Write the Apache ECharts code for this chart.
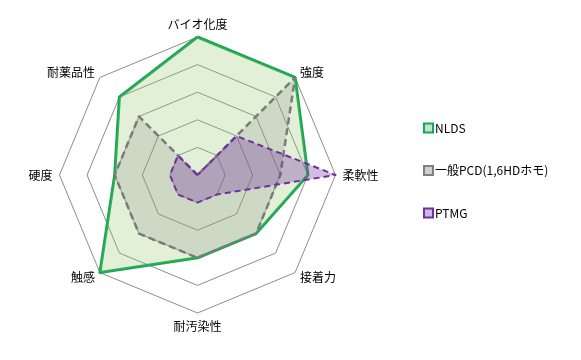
<!DOCTYPE html>
<html><head><meta charset="utf-8">
<script src="https://cdn.jsdelivr.net/npm/echarts@6/dist/echarts.min.js"></script>
<style>html,body{margin:0;padding:0;background:#fff}#c{width:581px;height:360px}</style>
</head><body><div id="c"></div>
<script>
// Axes in clockwise order starting from top (as in the reference)
var categories = ['バイオ化度', '強度', '柔軟性', '接着力', '耐汚染性', '触感', '硬度', '耐薬品性'];
var maxValue = 5;
var seriesNames = ['NLDS', '一般PCD(1,6HDホモ)', 'PTMG'];
var nlds = [5, 5, 4, 3, 3, 5, 3, 4];
var pcd  = [0, 5, 3, 3, 3, 3, 3, 3];
var ptmg = [0, 2, 5, 1, 1, 1, 1, 1];

// ECharts lays indicators counter-clockwise: reorder
function ccw(arr) { return [arr[0]].concat(arr.slice(1).reverse()); }

var chart = echarts.init(document.getElementById('c'));
var font = '"Noto Sans CJK JP", "Noto Sans", sans-serif';
chart.setOption({
  animation: false,
  textStyle: { fontFamily: font },
  legend: {
    orient: 'vertical',
    left: 418,
    top: 117,
    itemGap: 30.5,
    itemWidth: 9,
    itemHeight: 9,
    textStyle: { fontSize: 12, color: '#000', fontFamily: font, padding: [0, 0, 0, -3] },
    data: [
      { name: seriesNames[0], icon: 'rect', itemStyle: { color: '#bfe6c9', borderColor: '#17a652', borderWidth: 2 } },
      { name: seriesNames[1], icon: 'rect', itemStyle: { color: '#d0d0d0', borderColor: '#7f7f7f', borderWidth: 2 } },
      { name: seriesNames[2], icon: 'rect', itemStyle: { color: '#cfb8e0', borderColor: '#7030a0', borderWidth: 2 } }
    ]
  },
  radar: {
    center: [197.5, 175],
    radius: 138,
    shape: 'polygon',
    splitNumber: 5,
    nameGap: 7,
    indicator: ccw(categories).map(function (n) { return { name: n, max: maxValue, min: 0 }; }),
    axisName: { color: '#000', fontSize: 12, fontFamily: font },
    axisLine: { show: false },
    axisTick: { show: false },
    splitArea: { show: false },
    splitLine: { lineStyle: { color: '#8c8c8c', width: 1 } }
  },
  series: [{
    type: 'radar',
    symbol: 'none',
    data: [
      { name: seriesNames[0], value: ccw(nlds),
        lineStyle: { color: '#17a652', width: 3 },
        itemStyle: { color: '#17a652' },
        areaStyle: { color: 'rgba(146,200,110,0.38)' } },
      { name: seriesNames[1], value: ccw(pcd),
        lineStyle: { color: '#7a7a7a', width: 2.5, type: [7, 4] },
        itemStyle: { color: '#7a7a7a' },
        areaStyle: { color: 'rgba(128,128,128,0.3)' } },
      { name: seriesNames[2], value: ccw(ptmg),
        lineStyle: { color: '#7030a0', width: 2, type: [6, 4] },
        itemStyle: { color: '#7030a0' },
        areaStyle: { color: 'rgba(112,48,160,0.45)' } }
    ]
  }]
});
</script>
</body></html>
